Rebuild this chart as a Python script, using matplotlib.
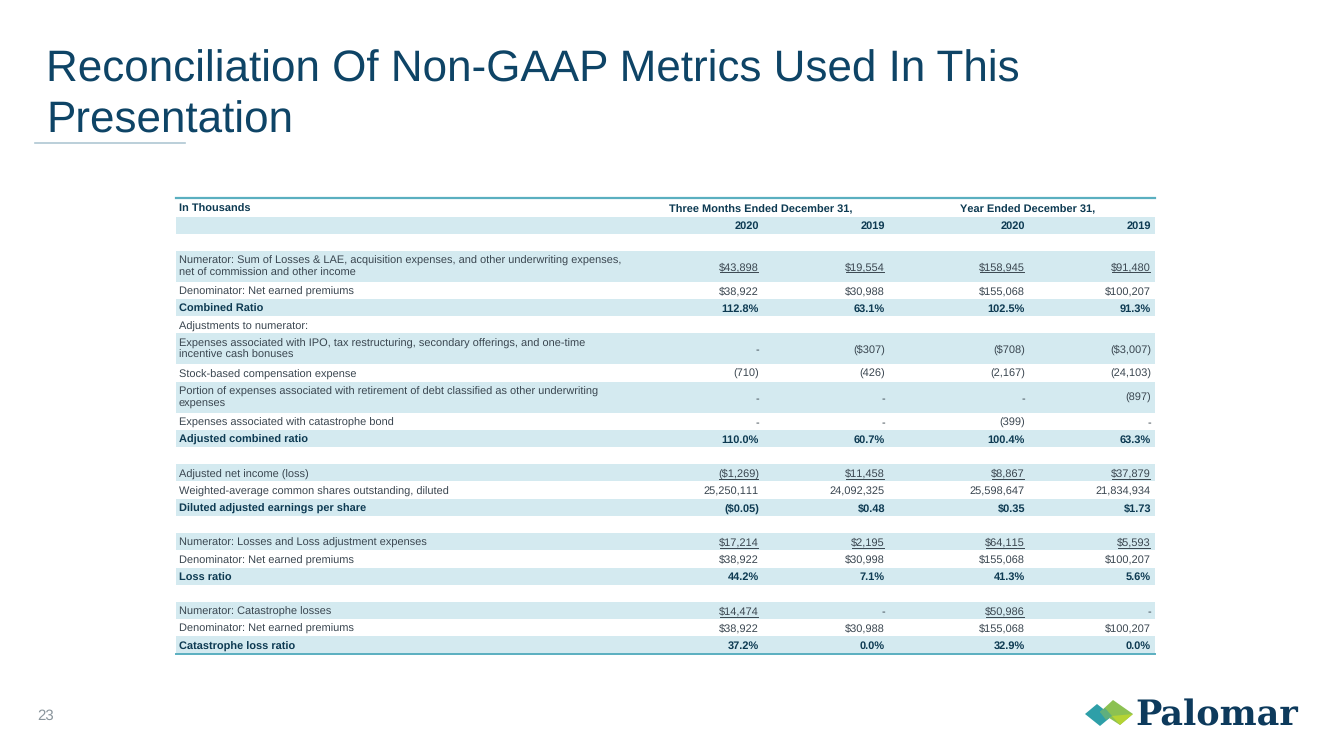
import matplotlib
matplotlib.use("Agg")
import matplotlib.pyplot as plt
from matplotlib.patches import Rectangle, Polygon

plt.rcParams['font.family'] = ['Liberation Sans', 'DejaVu Sans']
plt.rcParams['text.hinting'] = 'no_hinting'
plt.rcParams['text.hinting_factor'] = 1

# ---------------- data ----------------
title_lines = ["Reconciliation Of Non-GAAP Metrics Used In This", "Presentation"]
unit_label = "In Thousands"
period_headers = ["Three Months Ended December 31,", "Year Ended December 31,"]
year_labels = ["2020", "2019", "2020", "2019"]

row_labels = [
    "",
    "Numerator: Sum of Losses & LAE, acquisition expenses, and other underwriting expenses,\nnet of commission and other income",
    "Denominator: Net earned premiums",
    "Combined Ratio",
    "Adjustments to numerator:",
    "Expenses associated with IPO, tax restructuring, secondary offerings, and one-time\nincentive cash bonuses",
    "Stock-based compensation expense",
    "Portion of expenses associated with retirement of debt classified as other underwriting\nexpenses",
    "Expenses associated with catastrophe bond",
    "Adjusted combined ratio",
    "",
    "Adjusted net income (loss)",
    "Weighted-average common shares outstanding, diluted",
    "Diluted adjusted earnings per share",
    "",
    "Numerator: Losses and Loss adjustment expenses",
    "Denominator: Net earned premiums",
    "Loss ratio",
    "",
    "Numerator: Catastrophe losses",
    "Denominator: Net earned premiums",
    "Catastrophe loss ratio",
]
q4_2020 = ["", "$43,898", "$38,922", "112.8%", "", "-", "(710)", "-", "-", "110.0%", "",
           "($1,269)", "25,250,111", "($0.05)", "", "$17,214", "$38,922", "44.2%", "",
           "$14,474", "$38,922", "37.2%"]
q4_2019 = ["", "$19,554", "$30,988", "63.1%", "", "($307)", "(426)", "-", "-", "60.7%", "",
           "$11,458", "24,092,325", "$0.48", "", "$2,195", "$30,998", "7.1%", "",
           "-", "$30,988", "0.0%"]
fy_2020 = ["", "$158,945", "$155,068", "102.5%", "", "($708)", "(2,167)", "-", "(399)", "100.4%", "",
           "$8,867", "25,598,647", "$0.35", "", "$64,115", "$155,068", "41.3%", "",
           "$50,986", "$155,068", "32.9%"]
fy_2019 = ["", "$91,480", "$100,207", "91.3%", "", "($3,007)", "(24,103)", "(897)", "-", "63.3%", "",
           "$37,879", "21,834,934", "$1.73", "", "$5,593", "$100,207", "5.6%", "",
           "-", "$100,207", "0.0%"]
bold_rows = ["Combined Ratio", "Adjusted combined ratio", "Diluted adjusted earnings per share",
             "Loss ratio", "Catastrophe loss ratio"]
underlined_rows = [1, 11, 15, 19]
page_number = "23"
logo_text = "Palomar"

# ---------------- styling ----------------
W, H = 1333, 750
NAVY = "#0E4466"
BOLD_C = "#0D3A52"
TXT_C = "#3A4650"
SHADE = "#D4EAF0"
LINE_C = "#5AAFC0"

fig = plt.figure(figsize=(W / 100, H / 100), dpi=100)
ax = fig.add_axes([0, 0, 1, 1])
ax.set_xlim(0, W)
ax.set_ylim(H, 0)
ax.axis("off")

# title
ax.text(46, 82, title_lines[0], fontsize=31.8, color=NAVY, va="baseline", ha="left")
ax.text(46, 133, title_lines[1], fontsize=31.8, color=NAVY, va="baseline", ha="left")
ax.plot([35, 185], [143, 143], color="#AFC7D3", lw=1.2)

# table geometry
x0, x1 = 176, 1155
col_right = [759, 885, 1025, 1151]
label_x = 179
single, double = 17.2, 31.0
fs = 8.1
bl = 4.0  # baseline offset from row centre

# top rule
ax.plot([x0, x1], [197.5, 197.5], color=LINE_C, lw=1.6)
# header row
hy = 208 + bl
ax.text(label_x, hy, unit_label, fontsize=fs, fontweight="bold", color=BOLD_C, va="baseline")
ax.text(669, hy, period_headers[0], fontsize=fs, fontweight="bold", color=BOLD_C, va="baseline")
ax.text(960, hy, period_headers[1], fontsize=fs, fontweight="bold", color=BOLD_C, va="baseline")

y = 216.5
# years row (shaded)
ax.add_patch(Rectangle((x0, y), x1 - x0, single, color=SHADE, lw=0))
for xr, yl in zip(col_right, year_labels):
    ax.text(xr, y + single / 2 + bl, yl, fontsize=fs, fontweight="bold", color=BOLD_C,
            va="baseline", ha="right")
y += single

to_underline = []
shade = False
for i, lab in enumerate(row_labels):
    two = "\n" in lab
    h = double if two else single
    if lab == "":
        shade = True  # next row after blank is shaded
        y += single
        continue
    if shade:
        ax.add_patch(Rectangle((x0, y), x1 - x0, h, color=SHADE, lw=0))
    is_bold = lab in bold_rows
    c = BOLD_C if is_bold else TXT_C
    fw = "bold" if is_bold else "normal"
    yc = y + h / 2
    if two:
        ax.text(label_x, yc + 0.5, lab, fontsize=fs, fontweight=fw, color=c, va="center",
                ha="left", linespacing=1.2)
    else:
        ax.text(label_x, yc + bl + 0.5, lab, fontsize=fs, fontweight=fw, color=c, va="baseline", ha="left")
    for xr, vals in zip(col_right, [q4_2020, q4_2019, fy_2020, fy_2019]):
        v = vals[i]
        t = ax.text(xr, yc + bl, v, fontsize=fs, fontweight=fw, color=c, va="baseline", ha="right")
        if i in underlined_rows and v != "-":
            to_underline.append((t, yc + bl + 2))
    y += h
    shade = not shade

# bottom rule
ax.plot([x0, x1], [y, y], color=LINE_C, lw=1.4)

# underlines for underlined values
fig.canvas.draw()
r = fig.canvas.get_renderer()
inv = ax.transData.inverted()
for t, yu in to_underline:
    bb = t.get_window_extent(r)
    (xa, _), (xb, _) = inv.transform([[bb.x0, bb.y0], [bb.x1, bb.y1]])
    ax.plot([xa + 0.5, min(xb - 1.5, t.get_position()[0])], [yu, yu], color=TXT_C, lw=0.7)

# page number
ax.text(37, 716, page_number, fontsize=11, color="#8A959C", va="center", ha="left")

# logo
ax.add_patch(Polygon([[1085, 714], [1097, 704], [1112, 716], [1100, 726]], closed=True,
                     color="#2E9FA8", lw=0))
ax.add_patch(Polygon([[1100, 712], [1113, 700], [1133, 714], [1120, 725]], closed=True,
                     color="#8CC152", lw=0))
ax.add_patch(Polygon([[1112, 716], [1133, 714], [1120, 725]], closed=True,
                     color="#B5D334", lw=0))
ax.add_patch(Polygon([[1100, 712], [1105, 708], [1112, 716], [1106, 720]], closed=True,
                     color="#5FAF7E", lw=0))
ax.text(1135, 716, logo_text, fontsize=25, fontweight="bold", color="#0D3A5C",
        family=["DejaVu Serif"], va="center", ha="left")

fig.savefig("out.png", dpi=100)
